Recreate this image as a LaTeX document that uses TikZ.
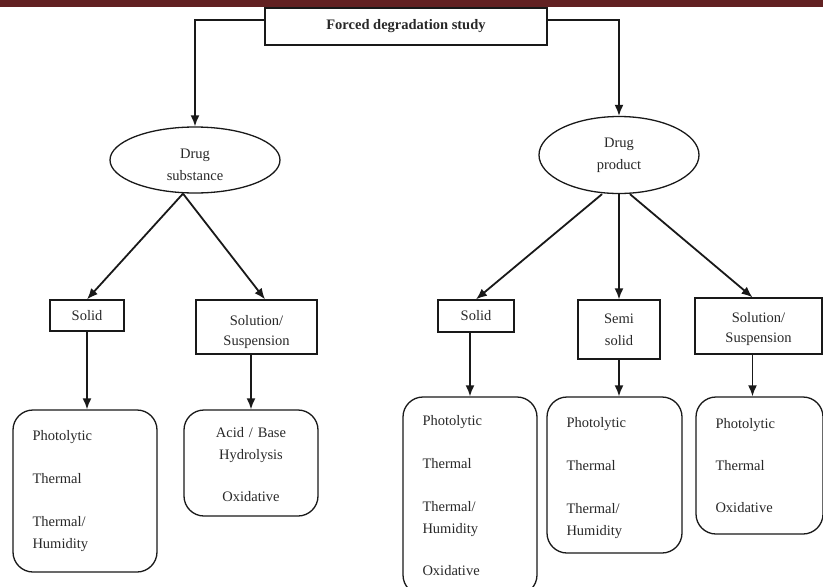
\documentclass[tikz,border=0pt]{standalone}
\usepackage{fontspec}
\setmainfont{Liberation Serif}
\usetikzlibrary{shapes.geometric,arrows.meta,positioning,calc}
\definecolor{bandred}{RGB}{98,33,34}
\definecolor{inkgray}{RGB}{40,40,40}
\definecolor{linegray}{RGB}{25,25,25}
\tikzset{
  topbox/.style={draw=linegray, line width=1.3pt, minimum width=282pt, minimum height=37pt, inner sep=0pt, font=\fontsize{14.5}{22}\selectfont\bfseries},
  oval/.style={draw=linegray, ellipse, line width=1.3pt, inner sep=0pt, align=center},
  kindbox/.style={draw=linegray, line width=1.3pt, inner sep=0pt, align=center},
  testbox/.style={draw=linegray, line width=1.3pt, rounded corners=20pt, inner xsep=19.5pt, inner ysep=0pt, align=left},
  link/.style={draw=linegray, line width=1.8pt, -{Latex[length=11pt,width=9pt]}}
}

\begin{document}
\begin{tikzpicture}[x=1pt, y=-1pt, font=\fontsize{14.5}{22}\selectfont, text=inkgray]
    \useasboundingbox (0,0) rectangle (823,587);
    \fill[bandred] (0,0) rectangle (823,7);
    \node[topbox] (study) at (406,26.5) {Forced degradation study};
    \node[oval, minimum width=170pt, minimum height=66pt] (subst) at (195,160) {\rule{0pt}{20pt}Drug\\substance};
    \node[oval, minimum width=160pt, minimum height=77pt] (prod) at (619,155) {Drug\\product};
    \node[kindbox, minimum width=74pt, minimum height=31pt] (subsolid) at (87,315.5) {Solid};
    \node[kindbox, minimum width=121pt, minimum height=54pt] (subsoln) at (256.5,327) {\rule{0pt}{20pt}Solution/\\[-2pt]Suspension};
    \node[kindbox, minimum width=76pt, minimum height=32pt] (prodsolid) at (476,316) {Solid};
    \node[kindbox, minimum width=82pt, minimum height=59pt] (prodsemi) at (619,329.5) {Semi\\solid};
    \node[kindbox, minimum width=127pt, minimum height=56pt] (prodsoln) at (758.5,326) {\rule{0pt}{16pt}Solution/\\[-2pt]Suspension};
    \node[testbox, text width=105pt, minimum height=162pt] (subsolidtest) at (85,491) {Photolytic\\[21pt]Thermal\\[21pt]Thermal/\\Humidity};
    \node[testbox, text width=95pt, align=center, minimum height=106pt] (subsolntest) at (251,463) {\rule{0pt}{14pt}Acid / Base\\Hydrolysis\\[20pt]Oxidative};
    \node[testbox, text width=95pt, minimum height=198pt] (prodsolidtest) at (470,496) {Photolytic\\[21pt]Thermal\\[21pt]Thermal/\\Humidity\\[20pt]Oxidative};
    \node[testbox, text width=96pt, minimum height=156pt] (prodsemitest) at (614.5,475) {\rule{0pt}{16pt}Photolytic\\[21pt]Thermal\\[21pt]Thermal/\\Humidity};
    \node[testbox, text width=88pt, minimum height=137pt] (prodsolntest) at (759.5,465.5) {Photolytic\\[20pt]Thermal\\[20pt]Oxidative};
    \draw[link] ([yshift=6.5pt]study.west) -| (subst.north);
    \draw[link] ([yshift=6.5pt]study.east) -| (prod.north);
    \draw[link] ([xshift=-12pt]subst.south) -- (subsolid.north);
    \draw[link] ([xshift=-12pt]subst.south) -- ([xshift=8.5pt]subsoln.north);
    \draw[link] (subsolid) -- (subsolid |- subsolidtest.north);
    \draw[link] (subsoln.south -| subsolntest.north) -- (subsolntest.north);
    \draw[link] ([xshift=-17pt]prod.south) -- (prodsolid.north);
    \draw[link] (prod) -- (prodsemi);
    \draw[link] ([xshift=11pt]prod.south) -- ([xshift=-6pt]prodsoln.north);
    \draw[link] (prodsolid.south -| prodsolidtest.north) -- (prodsolidtest.north);
    \draw[link] (prodsemi) -- (prodsemi |- prodsemitest.north);
    \draw[link] ([xshift=-6pt]prodsoln.south) -- ([xshift=-6pt]prodsoln.south |- prodsolntest.north);
\end{tikzpicture}
\end{document}
